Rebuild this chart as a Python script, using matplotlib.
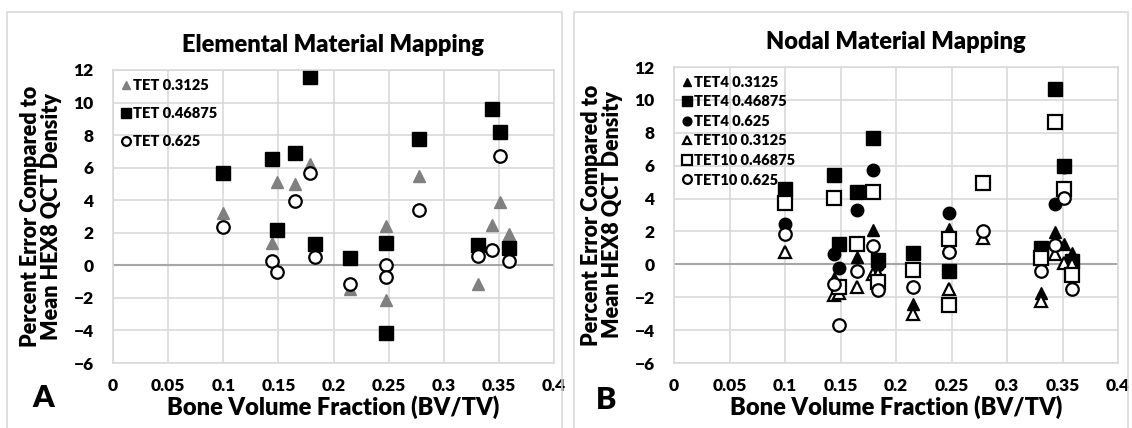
import numpy as np
import matplotlib.pyplot as plt
from matplotlib.patches import Rectangle

plt.rcParams['font.family'] = ['Lato', 'DejaVu Sans']
plt.rcParams['font.weight'] = 'heavy'

nan = np.nan

# bone volume fraction of each specimen
bvtv = [0.1, 0.144, 0.149, 0.165, 0.179, 0.1835, 0.215, 0.248, 0.248, 0.278, 0.331, 0.3435, 0.351, 0.359]

# A: elemental material mapping
tet_3125 = [3.2, 1.35, 5.1, 5.0, 6.2, nan, -1.45, 2.4, -2.15, 5.5, -1.15, 2.5, 3.9, 1.9]
tet_46875 = [5.65, 6.55, 2.2, 6.9, 11.55, 1.3, 0.43, 1.37, -4.15, 7.75, 1.27, 9.63, 8.2, 1.04]
tet_625 = [2.35, 0.25, -0.39, 3.93, 5.7, 0.49, -1.15, 0.0, -0.72, 3.41, 0.59, 0.96, 6.69, 0.25]

# B: nodal material mapping
tet4_3125 = [nan, -0.81, nan, 0.45, 2.07, nan, -2.4, 2.12, nan, nan, -1.72, 1.97, 1.22, 0.71]
tet4_46875 = [4.6, 5.42, 1.26, 4.4, 7.7, 0.24, 0.7, -0.41, nan, nan, 1.02, 10.65, 5.98, 0.2]
tet4_625 = [2.45, 0.61, -0.22, 3.29, 5.72, -0.05, nan, 3.1, 0.75, nan, nan, 3.65, 5.9, nan]
tet10_3125 = [0.75, -1.89, -1.74, -1.38, -0.57, -0.6, -3.05, -1.5, nan, 1.62, -2.23, 0.65, 0.1, 0.0]
tet10_46875 = [3.73, 4.06, -1.38, 1.26, 4.4, -1.07, -0.37, 1.55, -2.5, 4.95, 0.37, 8.68, 4.56, -0.65]
tet10_625 = [1.86, -1.22, -3.67, -0.43, 1.1, -1.58, -1.38, 0.75, nan, 2.03, -0.41, 1.16, 4.06, -1.52]

W, H = 1132, 428
fig = plt.figure(figsize=(W / 100, H / 100), dpi=100)

# panel frames
fig.patches.append(Rectangle((7 / W, -0.1), 555 / W, 1.1 - 12 / H, transform=fig.transFigure,
                             fill=False, edgecolor='#d9d9d9', lw=1.2))
fig.patches.append(Rectangle((574 / W, -0.1), 554 / W, 1.1 - 12 / H, transform=fig.transFigure,
                             fill=False, edgecolor='#d9d9d9', lw=1.2))


def style_axes(ax, title):
    ax.set_xlim(0, 0.4)
    ax.set_ylim(-6, 12)
    ax.set_xticks(np.arange(0, 0.401, 0.05))
    ax.set_xticklabels(['0', '0.05', '0.1', '0.15', '0.2', '0.25', '0.3', '0.35', '0.4'])
    ax.set_yticks(np.arange(-6, 12.1, 2))
    ax.grid(True, color='#d9d9d9', lw=1.2)
    ax.set_axisbelow(True)
    ax.axhline(0, color='#a6a6a6', lw=1.5, zorder=1)
    for s in ax.spines.values():
        s.set_color('#d9d9d9')
        s.set_linewidth(1.2)
    ax.tick_params(length=0, labelsize=12.5, pad=11)
    ax.tick_params(axis='y', pad=14)
    ax.set_title(title, fontsize=17, fontweight='heavy', pad=13)
    ax.set_xlabel('Bone Volume Fraction (BV/TV)', fontsize=17, fontweight='heavy', labelpad=1)
    ax.set_ylabel('Percent Error Compared to\nMean HEX8 QCT Density', fontsize=15.5,
                  fontweight='heavy', labelpad=8, linespacing=1.0)


ms_sq = 10
ms_o = 9
ms_t = 9

# ---- A ----
ax1 = fig.add_axes([113 / W, 1 - 363 / H, 441 / W, 293 / H])
style_axes(ax1, 'Elemental Material Mapping')
ax1.plot(bvtv, tet_3125, ls='none', marker='^', ms=ms_t, color='#808080', mec='#808080', label='TET 0.3125')
ax1.plot(bvtv, tet_46875, ls='none', marker='s', ms=ms_sq, color='black', label='TET 0.46875')
ax1.plot(bvtv, tet_625, ls='none', marker='o', ms=ms_o, mfc='white', mec='black', mew=1.6, label='TET 0.625')
ax1.legend(loc='upper left', frameon=False, fontsize=10.5, markerscale=0.7, handlelength=0.6,
           handletextpad=0.15, labelspacing=1.05, borderaxespad=0.3, borderpad=0.3)
fig.text(43 / W, 1 - 398 / H, 'A', fontsize=22, fontweight='heavy', ha='center', va='center')

# ---- B ----
ax2 = fig.add_axes([674 / W, 1 - 363 / H, 444 / W, 296 / H])
style_axes(ax2, 'Nodal Material Mapping')
ax2.plot(bvtv, tet4_3125, ls='none', marker='^', ms=ms_t, color='black', label='TET4 0.3125')
ax2.plot(bvtv, tet4_46875, ls='none', marker='s', ms=ms_sq, color='black', label='TET4 0.46875')
ax2.plot(bvtv, tet4_625, ls='none', marker='o', ms=ms_o, color='black', label='TET4 0.625')
ax2.plot(bvtv, tet10_3125, ls='none', marker='^', ms=ms_t, mfc='white', mec='black', mew=1.6, label='TET10 0.3125')
ax2.plot(bvtv, tet10_46875, ls='none', marker='s', ms=ms_sq, mfc='white', mec='black', mew=1.6, label='TET10 0.46875')
ax2.plot(bvtv, tet10_625, ls='none', marker='o', ms=ms_o, mfc='white', mec='black', mew=1.6, label='TET10 0.625')
ax2.legend(loc='upper left', frameon=False, fontsize=10.5, markerscale=0.7, handlelength=0.6,
           handletextpad=0.15, labelspacing=0.45, borderaxespad=0.3, borderpad=0.3)
fig.text(606 / W, 1 - 400 / H, 'B', fontsize=22, fontweight='heavy', ha='center', va='center')

fig.savefig('out.png', dpi=100)
